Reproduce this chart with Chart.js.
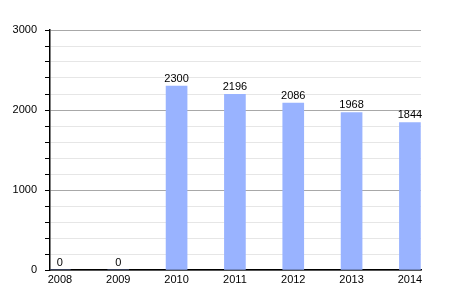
<!DOCTYPE html>
<html>
<head>
<meta charset="utf-8">
<script src="https://cdn.jsdelivr.net/npm/chart.js@4/dist/chart.umd.min.js"></script>
<style>
  html, body { margin: 0; padding: 0; background: #fff; }
  #wrap { width: 450px; height: 300px; }
</style>
</head>
<body>
<div id="wrap"><canvas id="chart"></canvas></div>
<script>
const years = [2008, 2009, 2010, 2011, 2012, 2013, 2014];
const values = [0, 0, 2300, 2196, 2086, 1968, 1844];
const yTicks = [0, 1000, 2000, 3000];

Chart.defaults.font.family = '"Liberation Sans", Arial, sans-serif';
Chart.defaults.font.size = 11;
Chart.defaults.color = '#000';

// values above each bar
const barLabels = {
    id: 'barLabels',
    afterDatasetsDraw(chart) {
        const ctx = chart.ctx;
        const meta = chart.getDatasetMeta(0);
        ctx.save();
        ctx.font = '11px "Liberation Sans", Arial, sans-serif';
        ctx.fillStyle = '#000';
        ctx.textAlign = 'center';
        ctx.textBaseline = 'bottom';
        meta.data.forEach((bar, i) => {
            ctx.fillText(String(values[i]), bar.x, bar.y - 2);
        });
        ctx.restore();
    }
};

const canvas = document.getElementById('chart');
const myChart = new Chart(canvas, {
    type: 'bar',
    data: {
        datasets: [{
            data: years.map((y, i) => ({ x: y, y: values[i] })),
            backgroundColor: '#99b3ff',
            barThickness: 21
        }]
    },
    options: {
        responsive: true,
        maintainAspectRatio: false,
        animation: false,
        layout: { padding: { top: 30, right: 29, left: 0, bottom: 0 } },
        plugins: {
            legend: { display: false },
            tooltip: { enabled: false }
        },
        scales: {
            x: {
                type: 'linear',
                offset: false,
                min: 2007.83,
                max: 2014.19,
                afterBuildTicks: axis => { axis.ticks = years.map(v => ({ value: v })); },
                afterFit: s => { s.height = 30; },
                grid: { display: false, drawTicks: false, tickLength: 0 },
                border: { display: true, color: '#000', width: 1.5 },
                ticks: { padding: 3, autoSkip: false, maxRotation: 0, callback: v => String(v) }
            },
            y: {
                min: 0,
                max: 3000,
                afterFit: s => { s.width = 50; },
                ticks: {
                    stepSize: 200,
                    maxTicksLimit: 20,
                    autoSkip: false,
                    padding: 8,
                    callback: v => yTicks.includes(v) ? String(v) : ''
                },
                grid: {
                    color: c => (c.tick && c.tick.value % 1000 === 0) ? '#a8a8a8' : '#e6e6e6',
                    tickColor: '#000',
                    tickLength: 5
                },
                border: { display: true, color: '#000', width: 1.5 }
            }
        }
    },
    plugins: [barLabels]
});
</script>
</body>
</html>
